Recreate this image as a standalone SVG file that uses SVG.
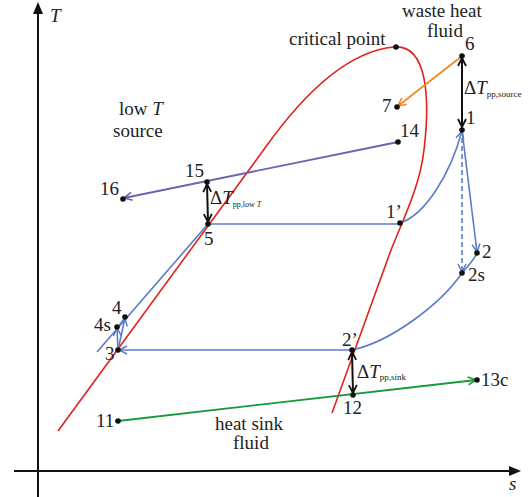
<svg xmlns="http://www.w3.org/2000/svg" width="529" height="497" viewBox="0 0 529 497">
<style>
text{font-family:"Liberation Serif","DejaVu Serif",serif;fill:#222;font-size:19px}
.it{font-style:italic}
.sub{font-size:9px}
.ax{stroke:#111;stroke-width:2;fill:none}
.red{stroke:#e3201b;stroke-width:1.6;fill:none}
.blue{stroke:#5b7cc6;stroke-width:1.6;fill:none}
.purple{stroke:#6c63b0;stroke-width:1.8;fill:none}
.orange{stroke:#f08a24;stroke-width:1.8;fill:none}
.green{stroke:#169a3c;stroke-width:1.8;fill:none}
.blk{stroke:#111;stroke-width:2;fill:none}
.dot{fill:#111}
</style>
<defs>
<marker id="aBlue" viewBox="0 0 10 10" refX="9" refY="5" markerWidth="10" markerHeight="10" markerUnits="userSpaceOnUse" orient="auto"><path d="M1,1 L9,5 L1,9" fill="none" stroke="#5b7cc6" stroke-width="1.5"/></marker>
<marker id="aPurple" viewBox="0 0 10 10" refX="9" refY="5" markerWidth="10" markerHeight="10" markerUnits="userSpaceOnUse" orient="auto"><path d="M1,1 L9,5 L1,9" fill="none" stroke="#6c63b0" stroke-width="1.6"/></marker>
<marker id="aOrange" viewBox="0 0 10 10" refX="9" refY="5" markerWidth="10" markerHeight="10" markerUnits="userSpaceOnUse" orient="auto"><path d="M1,1 L9,5 L1,9" fill="none" stroke="#f08a24" stroke-width="1.6"/></marker>
<marker id="aGreen" viewBox="0 0 10 10" refX="9" refY="5" markerWidth="10" markerHeight="10" markerUnits="userSpaceOnUse" orient="auto"><path d="M1,1 L9,5 L1,9" fill="none" stroke="#169a3c" stroke-width="1.6"/></marker>
<marker id="aBlk" viewBox="0 0 10 10" refX="9" refY="5" markerWidth="10" markerHeight="10" markerUnits="userSpaceOnUse" orient="auto-start-reverse"><path d="M1,1 L9,5 L1,9" fill="none" stroke="#111" stroke-width="1.8"/></marker>
</defs>

<g id="axes">
<line class="ax" x1="38" y1="497" x2="38" y2="12"/>
<path d="M38,2 L33,14 L43,14 Z" fill="#111"/>
<line class="ax" x1="14" y1="471" x2="510" y2="471"/>
<path d="M521,471 L509,466 L509,476 Z" fill="#111"/>
<text x="50" y="22" class="it" font-size="20">T</text>
<text x="509" y="490" class="it" font-size="20">s</text>
</g>

<g id="saturation-dome">
<path class="red" d="M58,431 L265,148 C292,110 340,52 394,47 C428,44 430,100 424,150 C420,185 405,215 391,250 L332,413"/>
</g>

<g id="connectors">
<line class="orange" x1="462" y1="56" x2="398" y2="106" marker-end="url(#aOrange)"/>
<line class="purple" x1="398" y1="142" x2="124" y2="198" marker-end="url(#aPurple)"/>
<line class="green" x1="118" y1="421" x2="476" y2="380" marker-end="url(#aGreen)"/>
<line class="blue" x1="97" y1="352" x2="208" y2="224"/>
<line class="blue" x1="208" y1="224" x2="400" y2="224"/>
<path class="blue" d="M400,223 C425,215 450,175 462,131" marker-end="url(#aBlue)"/>
<line class="blue" x1="462" y1="130" x2="477" y2="252" marker-end="url(#aBlue)"/>
<line class="blue" x1="462" y1="130" x2="462" y2="272" stroke-dasharray="5,3" marker-end="url(#aBlue)"/>
<path class="blue" d="M477,253 C474,260 468,266 462,273 C440,305 390,342 352,350"/>
<line class="blue" x1="352" y1="350" x2="119" y2="350" marker-end="url(#aBlue)"/>
<line class="blue" x1="118" y1="350" x2="117" y2="328" marker-end="url(#aBlue)"/>
<line class="blue" x1="118" y1="350" x2="125" y2="318" marker-end="url(#aBlue)"/>
<line class="blk" x1="462" y1="58" x2="462" y2="127" marker-start="url(#aBlk)" marker-end="url(#aBlk)"/>
<line class="blk" x1="207" y1="184" x2="208" y2="222" marker-start="url(#aBlk)" marker-end="url(#aBlk)"/>
<line class="blk" x1="352" y1="352" x2="353" y2="393" marker-start="url(#aBlk)" marker-end="url(#aBlk)"/>
</g>

<g id="critical-point"><circle class="dot" cx="396" cy="47" r="2.8"/><text x="289" y="45">critical point</text></g>
<g id="waste-heat-label"><text x="402" y="17">waste heat</text><text x="427" y="37">fluid</text></g>
<g id="low-T-label"><text x="119" y="115">low <tspan class="it">T</tspan></text><text x="113" y="137">source</text></g>
<g id="heat-sink-label"><text x="215" y="430">heat sink</text><text x="233" y="449">fluid</text></g>

<g id="p6"><circle class="dot" cx="462" cy="56" r="2.8"/><text x="465" y="50">6</text></g>
<g id="p7"><circle class="dot" cx="397" cy="107" r="2.8"/><text x="382" y="112">7</text></g>
<g id="p1"><circle class="dot" cx="462" cy="130" r="2.8"/><text x="466" y="124">1</text></g>
<g id="p14"><circle class="dot" cx="398" cy="142" r="2.8"/><text x="400" y="137">14</text></g>
<g id="p15"><circle class="dot" cx="207" cy="182" r="2.8"/><text x="185" y="177">15</text></g>
<g id="p16"><circle class="dot" cx="123" cy="199" r="2.8"/><text x="100" y="195">16</text></g>
<g id="p5"><circle class="dot" cx="208" cy="224" r="2.8"/><text x="204" y="245">5</text></g>
<g id="p1prime"><circle class="dot" cx="400" cy="223" r="2.8"/><text x="386" y="218">1’</text></g>
<g id="p2"><circle class="dot" cx="477" cy="253" r="2.8"/><text x="482" y="258">2</text></g>
<g id="p2s"><circle class="dot" cx="462" cy="273" r="2.8"/><text x="468" y="281">2s</text></g>
<g id="p2prime"><circle class="dot" cx="352" cy="350" r="2.8"/><text x="342" y="346">2’</text></g>
<g id="p3"><circle class="dot" cx="118" cy="350" r="2.8"/><text x="105" y="360">3</text></g>
<g id="p4s"><circle class="dot" cx="117" cy="327" r="2.8"/><text x="94" y="331">4s</text></g>
<g id="p4"><circle class="dot" cx="125" cy="317" r="2.8"/><text x="112" y="314">4</text></g>
<g id="p11"><circle class="dot" cx="118" cy="421" r="2.8"/><text x="96" y="427">11</text></g>
<g id="p12"><circle class="dot" cx="353" cy="395" r="2.8"/><text x="343" y="414">12</text></g>
<g id="p13c"><circle class="dot" cx="477" cy="380" r="2.8"/><text x="481" y="386">13c</text></g>

<g id="dT-source"><text x="464" y="94">Δ<tspan class="it">T</tspan><tspan class="sub" dy="3">pp,source</tspan></text></g>
<g id="dT-lowT"><text x="210" y="204">Δ<tspan class="it">T</tspan><tspan font-size="8" dy="3">pp,low <tspan class="it">T</tspan></tspan></text></g>
<g id="dT-sink"><text x="357" y="378">Δ<tspan class="it">T</tspan><tspan class="sub" dy="2">pp,sink</tspan></text></g>
</svg>
